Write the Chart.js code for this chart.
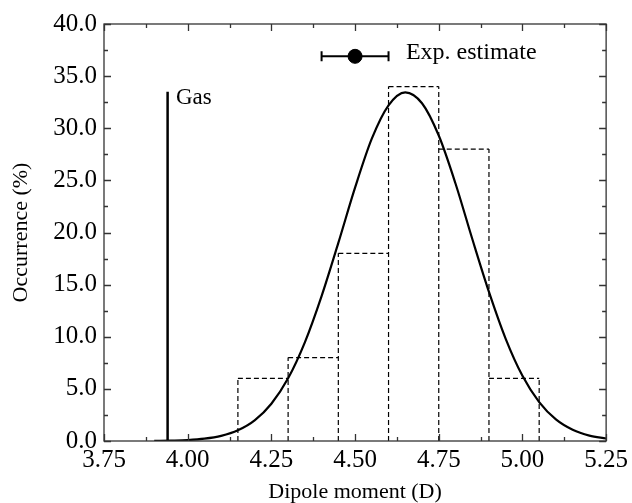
<!DOCTYPE html>
<html>
<head>
<meta charset="utf-8">
<script src="https://cdn.jsdelivr.net/npm/chart.js@4/dist/chart.umd.min.js"></script>
<style>
html,body{margin:0;padding:0;background:#fff;}
#wrap{width:632px;height:503px;position:relative;}
</style>
</head>
<body>
<div id="wrap"><canvas id="c" width="632" height="503"></canvas></div>
<script>
// Histogram bins (Dipole moment, D) and occurrence (%)
const binStarts  = [4.15, 4.30, 4.45, 4.60, 4.75, 4.90];
const binEnds    = [4.30, 4.45, 4.60, 4.75, 4.90, 5.05];
const binHeights = [6, 8, 18, 34, 28, 6];

// Fitted distribution curve
const curveX = [3.90,3.95,4.00,4.05,4.10,4.15,4.20,4.25,4.30,4.35,4.40,4.45,4.50,4.55,4.60,4.65,4.70,4.75,4.80,4.85,4.90,4.95,5.00,5.05,5.10,5.15,5.20,5.25];
const curveY = [0.01,0.04,0.09,0.22,0.49,1.02,1.97,3.57,6.01,9.46,13.9,19.0,24.3,29.0,32.2,33.45,32.4,29.3,24.7,19.4,14.3,9.8,6.25,3.73,2.07,1.08,0.52,0.24];

// Gas-phase value
const gasX = 3.94;
const gasTop = 33.5;

// Experimental estimate with error bar
const expX = 4.50;
const expY = 36.9;
const expLow = 4.40;
const expHigh = 4.60;

const xTicks = {min: 3.75, max: 5.25, step: 0.25};
const yTicks = {min: 0, max: 40, step: 5};

const FONT = "'Liberation Serif', 'Times New Roman', serif";
const DASH = [5, 3];

const datasets = [];
// bar tops
binStarts.forEach((s, i) => {
  datasets.push({
    data: [{x: s, y: binHeights[i]}, {x: binEnds[i], y: binHeights[i]}],
    borderColor: '#000', borderWidth: 1.2, borderDash: DASH,
    showLine: true, pointRadius: 0, tension: 0, fill: false
  });
});
// bar edges (shared edges drawn once, up to the taller neighbour)
const edgeMap = new Map();
binStarts.forEach((s, i) => {
  const h = binHeights[i];
  [s, binEnds[i]].forEach(e => {
    const k = e.toFixed(3);
    edgeMap.set(k, Math.max(edgeMap.get(k) || 0, h));
  });
});
edgeMap.forEach((h, k) => {
  const e = parseFloat(k);
  datasets.push({
    data: [{x: e, y: 0}, {x: e, y: h}],
    borderColor: '#000', borderWidth: 1.2, borderDash: DASH,
    showLine: true, pointRadius: 0, tension: 0, fill: false
  });
});
datasets.push({
  data: curveX.map((x, i) => ({x: x, y: curveY[i]})),
  borderColor: '#000', borderWidth: 2.2, showLine: true, pointRadius: 0,
  cubicInterpolationMode: 'monotone', fill: false
});
datasets.push({
  data: [{x: gasX, y: 0}, {x: gasX, y: gasTop}],
  borderColor: '#000', borderWidth: 2.5, showLine: true, pointRadius: 0
});
datasets.push({
  data: [{x: expLow, y: expY}, {x: expHigh, y: expY}],
  borderColor: '#000', borderWidth: 2, showLine: true,
  pointStyle: 'line', rotation: 90, pointRadius: 5, pointBorderWidth: 2, pointBorderColor: '#000'
});
datasets.push({
  data: [{x: expX, y: expY}],
  backgroundColor: '#000', borderColor: '#000', pointRadius: 7, pointStyle: 'circle', showLine: false
});

const framePlugin = {
  id: 'frame',
  afterDatasetsDraw(chart) {
    const ctx = chart.ctx;
    const a = chart.chartArea;
    const xs = chart.scales.x, ys = chart.scales.y;
    ctx.save();
    ctx.strokeStyle = '#333';
    ctx.lineWidth = 1.3;
    ctx.strokeRect(a.left, a.top, a.right - a.left, a.bottom - a.top);
    ctx.beginPath();
    const nx = Math.round((xTicks.max - xTicks.min) / (xTicks.step / 2));
    for (let i = 0; i <= nx; i++) {
      const v = xTicks.min + i * xTicks.step / 2;
      const px = Math.round(xs.getPixelForValue(v)) + 0.5;
      const len = (i % 2 === 0) ? 7 : 4;
      ctx.moveTo(px, a.bottom); ctx.lineTo(px, a.bottom - len);
      ctx.moveTo(px, a.top); ctx.lineTo(px, a.top + len);
    }
    const ny = Math.round((yTicks.max - yTicks.min) / (yTicks.step / 2));
    for (let i = 0; i <= ny; i++) {
      const v = yTicks.min + i * yTicks.step / 2;
      const py = Math.round(ys.getPixelForValue(v)) + 0.5;
      const len = (i % 2 === 0) ? 7 : 4;
      ctx.moveTo(a.left, py); ctx.lineTo(a.left + len, py);
      ctx.moveTo(a.right, py); ctx.lineTo(a.right - len, py);
    }
    ctx.stroke();
    ctx.fillStyle = '#000';
    ctx.textBaseline = 'middle';
    ctx.textAlign = 'left';
    ctx.font = "23px " + FONT;
    ctx.fillText('Gas', xs.getPixelForValue(3.965), ys.getPixelForValue(32.9));
    ctx.font = "24px " + FONT;
    ctx.fillText('Exp. estimate', xs.getPixelForValue(4.652), ys.getPixelForValue(37.2));
    ctx.restore();
  }
};

new Chart(document.getElementById('c'), {
  type: 'scatter',
  data: {datasets: datasets},
  options: {
    responsive: false,
    animation: false,
    layout: {padding: {top: 24, right: 25, left: 0, bottom: 0}},
    plugins: {legend: {display: false}, tooltip: {enabled: false}},
    scales: {
      x: {
        type: 'linear', min: xTicks.min, max: xTicks.max,
        afterFit(s) { s.height = 62; },
        grid: {display: false, drawTicks: false},
        border: {display: false},
        ticks: {stepSize: xTicks.step, padding: 4, color: '#000',
          font: {family: FONT, size: 25},
          callback: v => Number(v).toFixed(2)},
        title: {display: true, text: 'Dipole moment (D)', color: '#000',
          font: {family: FONT, size: 22, lineHeight: 1.0}, padding: {top: 0, bottom: 0}}
      },
      y: {
        type: 'linear', min: yTicks.min, max: yTicks.max,
        afterFit(s) { s.width = 104; },
        grid: {display: false, drawTicks: false},
        border: {display: false},
        ticks: {stepSize: yTicks.step, padding: 7, color: '#000',
          font: {family: FONT, size: 25},
          callback: v => Number(v).toFixed(1)},
        title: {display: true, text: 'Occurrence (%)', color: '#000',
          font: {family: FONT, size: 22, lineHeight: 1.0}, padding: {top: 10, bottom: 0}}
      }
    }
  },
  plugins: [framePlugin]
});
</script>
</body>
</html>
